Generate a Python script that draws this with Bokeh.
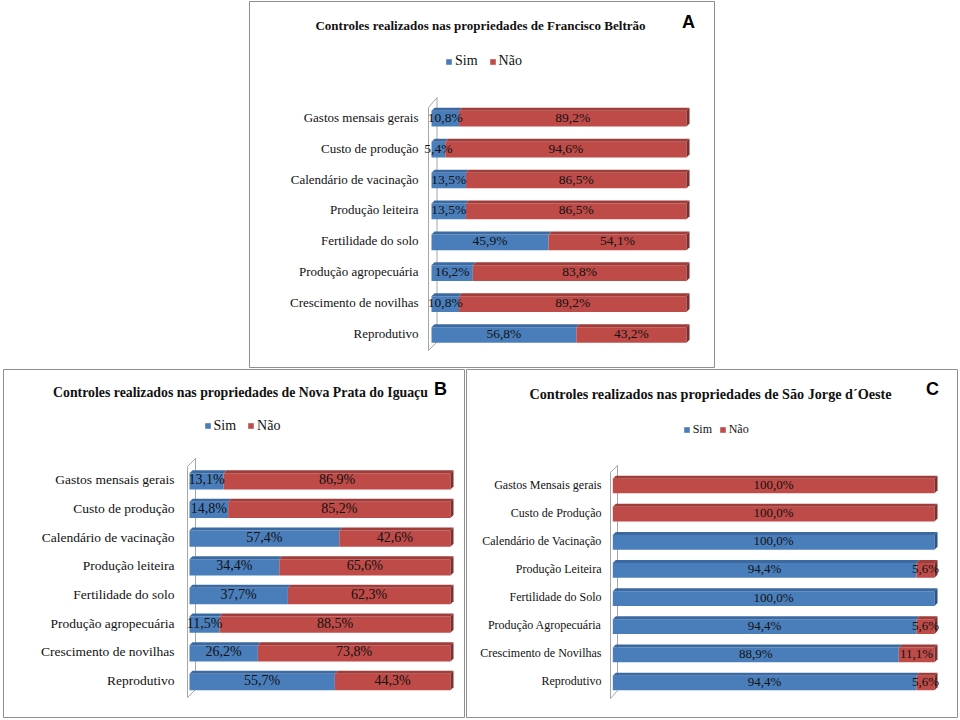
from bokeh.plotting import figure
from bokeh.models import Range1d, Legend, LegendItem, ColumnDataSource, Spacer
from bokeh.layouts import column, row
from bokeh.embed import file_html
from bokeh.resources import INLINE
from bokeh.core.properties import value

# ---------------- data ----------------
cats_a = ["Gastos mensais gerais", "Custo de produção", "Calendário de vacinação",
          "Produção leiteira", "Fertilidade do solo", "Produção agropecuária",
          "Crescimento de novilhas", "Reprodutivo"]
sim_a = [10.8, 5.4, 13.5, 13.5, 45.9, 16.2, 10.8, 56.8]
nao_a = [89.2, 94.6, 86.5, 86.5, 54.1, 83.8, 89.2, 43.2]

cats_b = ["Gastos mensais gerais", "Custo de produção", "Calendário de vacinação",
          "Produção leiteira", "Fertilidade do solo", "Produção agropecuária",
          "Crescimento de novilhas", "Reprodutivo"]
sim_b = [13.1, 14.8, 57.4, 34.4, 37.7, 11.5, 26.2, 55.7]
nao_b = [86.9, 85.2, 42.6, 65.6, 62.3, 88.5, 73.8, 44.3]

cats_c = ["Gastos Mensais gerais", "Custo de Produção", "Calendário de Vacinação",
          "Produção Leiteira", "Fertilidade do Solo", "Produção Agropecuária",
          "Crescimento de Novilhas", "Reprodutivo"]
sim_c = [0.0, 0.0, 100.0, 94.4, 100.0, 94.4, 88.9, 94.4]
nao_c = [100.0, 100.0, 0.0, 5.6, 0.0, 5.6, 11.1, 5.6]

title_a = "Controles realizados nas propriedades de Francisco Beltrão"
title_b = "Controles realizados nas propriedades de Nova Prata do Iguaçu"
title_c = "Controles realizados nas propriedades de São Jorge d´Oeste"
series_labels = ["Sim", "Não"]

# ---------------- style ----------------
BLUE = ("#4A7EBB", "#3B69A2", "#2C5384")   # front, top, side
RED = ("#BE4B48", "#A03D3A", "#7E2E2C")
SERIF = "Liberation Serif"

# page-pixel layout of each panel
geo_a = dict(box=(248, 715, 0, 368), bars=(431, 686), rows=(116.7, 30.9), bar_h=18.7,
             lab_x=418, lab_fs="13px", val_fs="13.5px",
             title=(480, 25, "13px"), letter=(688, 21),
             leg=(445, 61, "14px", 10.7),
             wall=(428, 436.5, 107, 97, 341.5, 350))
geo_b = dict(box=(2, 465, 368, 718), bars=(189, 450), rows=(479.3, 28.67), bar_h=19.3,
             lab_x=174, lab_fs="13.5px", val_fs="14px",
             title=(240, 391.5, "13.8px"), letter=(440, 388),
             leg=(203.5, 425.5, "14px", 11.4),
             wall=(187, 195, 466, 458, 689, 697))
geo_c = dict(box=(465, 958, 368, 718), bars=(612.3, 934), rows=(484, 28.14), bar_h=17.7,
             lab_x=601, lab_fs="12px", val_fs="13px",
             title=(710, 393, "14.2px"), letter=(932, 388),
             leg=(682.7, 429.3, "12px", 6.0),
             wall=(610, 617, 472, 465, 690, 698))


def fmt(v):
    return ("%.1f" % v).replace(".", ",") + "%"


def panel(cats, sim, nao, title, letter, g):
    x0, x1, y0, y1 = g["box"]
    W, H = x1 - x0, y1 - y0
    b0, b100 = g["bars"]
    r0, rs = g["rows"]
    ux = (b100 - b0) / 100.0

    def X(px):
        return (px - b0) / ux

    def Y(py):
        return (py - r0) / rs

    p = figure(width=W, height=H,
               x_range=Range1d(X(x0 + 1), X(x1 - 1)),
               y_range=Range1d(Y(y1 - 1), Y(y0 + 1)),
               output_backend="svg", toolbar_location=None,
               x_axis_location=None, y_axis_location=None,
               min_border=1, title=None)
    p.grid.visible = False
    p.outline_line_color = "#8f8f8f"
    p.outline_line_width = 1
    p.background_fill_color = "white"
    p.border_fill_color = "white"

    # 3-D wall on the left
    wl, wr, lt, rt, rb, lb = g["wall"]
    p.patch(x=[X(wl), X(wr), X(wr), X(wl)], y=[Y(lt), Y(rt), Y(rb), Y(lb)],
            fill_color="white", line_color="#a6a6a6", line_width=1)

    n = len(cats)
    ys = list(range(n))
    h = g["bar_h"] / rs
    t = 3.0 / rs
    d = 3.0 / ux

    totals = [s + q for s, q in zip(sim, nao)]
    segs = [
        (list(sim), [0.0] * n, list(sim), BLUE),
        (list(nao), list(sim), totals, RED),
    ]

    renderers = []
    for vals, lefts, rights, col in segs:
        src = ColumnDataSource(dict(y=[yy + t / 2 for yy in ys], left=lefts, right=rights))
        r = p.hbar(y="y", left="left", right="right", height=h - t, source=src,
                   fill_color=col[0], line_color=None)
        renderers.append(r)
        # top faces
        xs_top, ys_top = [], []
        for yy, L, R, v in zip(ys, lefts, rights, vals):
            if v <= 0:
                continue
            top = yy - h / 2
            xs_top.append([L, R, R + d, L + d])
            ys_top.append([top + t, top + t, top, top])
        if xs_top:
            p.patches(xs=xs_top, ys=ys_top, fill_color=col[1], line_color=None)

    # side faces at the end of each bar
    xs_side, ys_side, c_side = [], [], []
    for yy, s, q, tot in zip(ys, sim, nao, totals):
        top = yy - h / 2
        bot = yy + h / 2
        xs_side.append([tot, tot + d, tot + d, tot])
        ys_side.append([top + t, top, bot - t, bot])
        c_side.append(RED[2] if q > 0 else BLUE[2])
    p.patches(xs="xs", ys="ys", fill_color="c", line_color=None,
              source=ColumnDataSource(dict(xs=xs_side, ys=ys_side, c=c_side)))

    # value labels
    vx, vy, vt = [], [], []
    for yy, s, q in zip(ys, sim, nao):
        if s > 0:
            vx.append(s / 2.0); vy.append(yy); vt.append(fmt(s))
        if q > 0:
            vx.append(s + q / 2.0); vy.append(yy); vt.append(fmt(q))
    p.text(x="x", y="y", text="t", source=ColumnDataSource(dict(x=vx, y=vy, t=vt)),
           text_font=value(SERIF), text_font_size=g["val_fs"], text_align="center",
           text_baseline="middle", text_color="#111111")

    # category labels
    p.text(x=[X(g["lab_x"])] * n, y=ys, text=cats,
           text_font=value(SERIF), text_font_size=g["lab_fs"], text_align="right",
           text_baseline="middle", text_color="#111111")

    # title and panel letter
    tx, ty, tfs = g["title"]
    p.text(x=[X(tx)], y=[Y(ty)], text=[title], text_font=value(SERIF),
           text_font_style="bold", text_font_size=tfs, text_align="center",
           text_baseline="middle", text_color="#111111")
    lx, ly = g["letter"]
    p.text(x=[X(lx)], y=[Y(ly)], text=[letter], text_font=value("Liberation Sans"),
           text_font_style="bold", text_font_size="18px", text_align="center",
           text_baseline="middle", text_color="black")

    # legend
    gx, gy, gfs, gsp = g["leg"]
    legend = Legend(items=[LegendItem(label=series_labels[0], renderers=[renderers[0]]),
                           LegendItem(label=series_labels[1], renderers=[renderers[1]])],
                    orientation="horizontal",
                    location=(gx - (x0 + 1), (y1 - 1) - gy - 10),
                    glyph_width=7, glyph_height=7, label_standoff=3, spacing=int(round(gsp)),
                    padding=0, margin=0, label_height=20,
                    border_line_color=None, background_fill_alpha=0,
                    label_text_font="'Liberation Serif'", label_text_font_size=gfs,
                    label_text_color="#111111")
    p.add_layout(legend)
    return p


pA = panel(cats_a, sim_a, nao_a, title_a, "A", geo_a)
pB = panel(cats_b, sim_b, nao_b, title_b, "B", geo_b)
pC = panel(cats_c, sim_c, nao_c, title_c, "C", geo_c)

layout = column(row(Spacer(width=248, height=368), pA),
                row(Spacer(width=2, height=350), pB, pC))

open("out.html", "w").write(file_html(layout, INLINE))
